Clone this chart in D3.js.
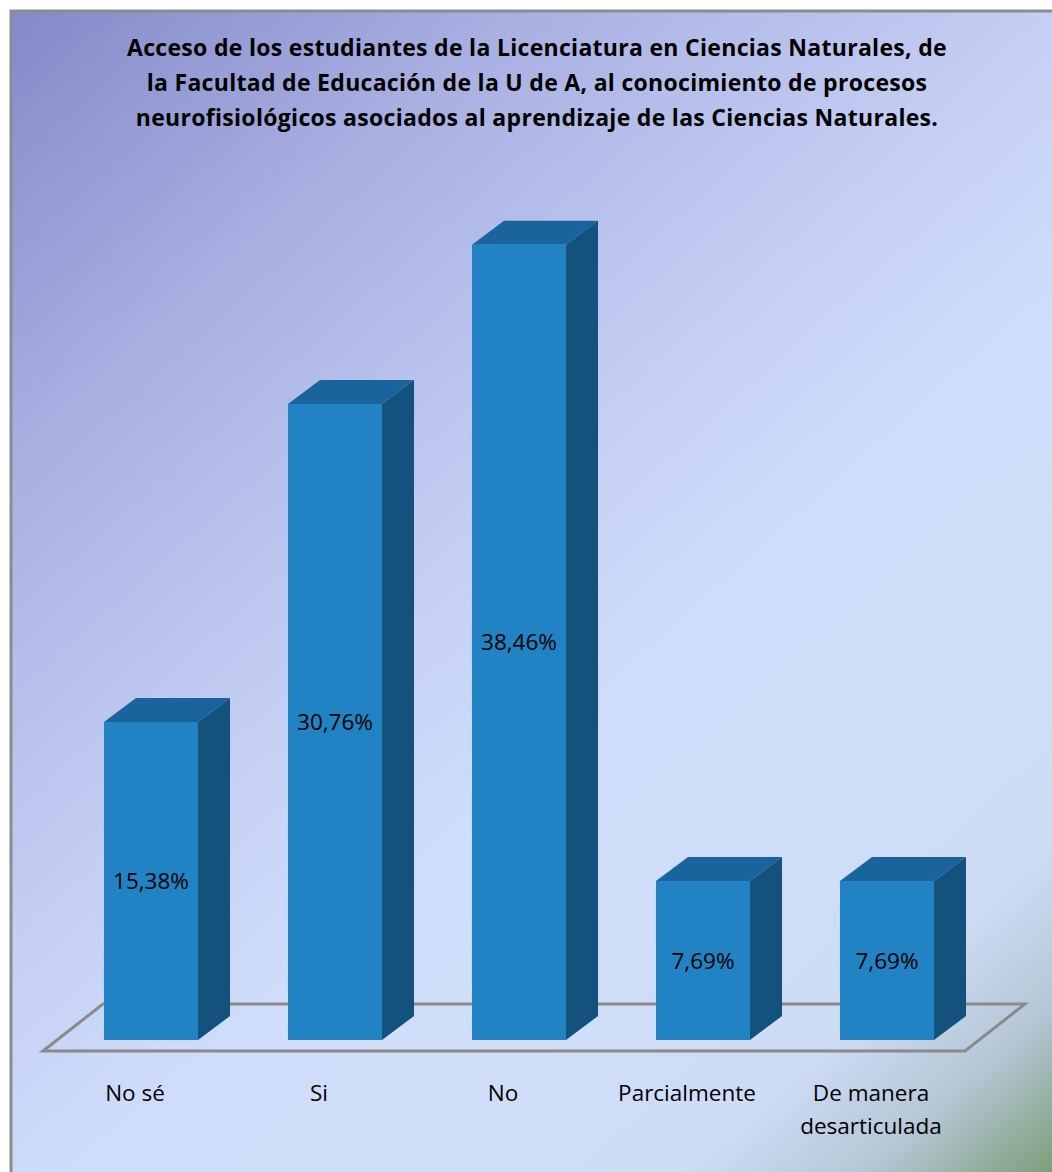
<!DOCTYPE html>
<html>
<head>
<meta charset="utf-8">
<script src="https://cdn.jsdelivr.net/npm/d3@7"></script>
<style>
  html, body { margin: 0; padding: 0; background: #fff; }
  svg { display: block; }
</style>
</head>
<body>
<svg id="chart" width="1052" height="1172"></svg>
<script>
// Survey data: percentage of answers per category
const categories = ["No sé", "Si", "No", "Parcialmente", "De manera desarticulada"];
const values = [15.38, 30.76, 38.46, 7.69, 7.69];
const valueLabels = ["15,38%", "30,76%", "38,46%", "7,69%", "7,69%"];
const titleLines = [
  "Acceso de los estudiantes de la Licenciatura en Ciencias Naturales, de",
  "la Facultad de Educación de la U de A, al conocimiento de procesos",
  "neurofisiológicos asociados al aprendizaje de las Ciencias Naturales."
];

const W = 1052, H = 1172;
const svg = d3.select("#chart");
const defs = svg.append("defs");

// Background gradient of the chart area
const bg = defs.append("linearGradient")
  .attr("id", "bgGrad")
  .attr("gradientUnits", "userSpaceOnUse")
  .attr("x1", 10).attr("y1", 10).attr("x2", W).attr("y2", H);
[
  [0.00, "#8389c8"],
  [0.22, "#a9b0e2"],
  [0.45, "#c5cff4"],
  [0.60, "#d0defb"],
  [0.84, "#cfdcf6"],
  [0.92, "#b5c7d6"],
  [1.00, "#7d9e7a"]
].forEach(([o, c]) => bg.append("stop").attr("offset", o).attr("stop-color", c));

svg.append("rect")
  .attr("x", 11).attr("y", 11).attr("width", W).attr("height", H)
  .attr("fill", "url(#bgGrad)")
  .attr("stroke", "#8c8c8c").attr("stroke-width", 3);

// Title
const font = "'Open Sans', Lato, sans-serif";
svg.append("g").selectAll("text")
  .data(titleLines).join("text")
  .attr("x", 537)
  .attr("y", (d, i) => 56 + i * 35)
  .attr("text-anchor", "middle")
  .attr("font-family", font)
  .attr("font-weight", "bold")
  .attr("font-size", 23)
  .attr("letter-spacing", 0.3)
  .attr("fill", "#000")
  .text(d => d);

// Scales
const x = d3.scaleBand()
  .domain(categories)
  .range([59, 979])
  .paddingInner(0.489)
  .paddingOuter(0.2445);

const y = d3.scaleLinear().domain([0, 40]).range([1040, 213]);

const depthX = 32, depthY = 24;   // bar depth offset
const floorDX = 60, floorDY = 47; // floor depth

// Floor plane
const fx0 = x.range()[0] - 16, fx1 = x.range()[1] - 14;
const fy = y(0) + 11;
svg.append("path")
  .attr("d", d3.line()([
    [fx0, fy], [fx0 + floorDX, fy - floorDY],
    [fx1 + floorDX, fy - floorDY], [fx1, fy]
  ]) + "Z")
  .attr("fill", "none")
  .attr("stroke", "#8a8a8a")
  .attr("stroke-width", 3)
  .attr("stroke-linejoin", "miter");

// 3D bars
const bars = svg.append("g").selectAll("g")
  .data(categories.map((c, i) => ({ c, v: values[i], label: valueLabels[i] })))
  .join("g");

bars.append("path") // top face
  .attr("d", d => {
    const x0 = x(d.c), x1 = x0 + x.bandwidth(), yt = y(d.v);
    return d3.line()([[x0, yt], [x0 + depthX, yt - depthY], [x1 + depthX, yt - depthY], [x1, yt]]) + "Z";
  })
  .attr("fill", "#1a649d");

bars.append("path") // side face
  .attr("d", d => {
    const x1 = x(d.c) + x.bandwidth(), yt = y(d.v), yb = y(0);
    return d3.line()([[x1, yt], [x1 + depthX, yt - depthY], [x1 + depthX, yb - depthY], [x1, yb]]) + "Z";
  })
  .attr("fill", "#14527e");

bars.append("rect") // front face
  .attr("x", d => x(d.c))
  .attr("y", d => y(d.v))
  .attr("width", x.bandwidth())
  .attr("height", d => y(0) - y(d.v))
  .attr("fill", "#2283c4");

bars.append("text")
  .attr("x", d => x(d.c) + x.bandwidth() / 2)
  .attr("y", d => (y(d.v) + y(0)) / 2 + 8)
  .attr("text-anchor", "middle")
  .attr("font-family", font)
  .attr("font-size", 22.5)
  .attr("fill", "#000")
  .text(d => d.label);

// Category axis labels
const wrapLabel = s => s === "De manera desarticulada" ? ["De manera", "desarticulada"] : [s];
const catG = svg.append("g").selectAll("text")
  .data(categories).join("text")
  .attr("x", d => x(d) + x.bandwidth() / 2 - 16)
  .attr("y", 1101)
  .attr("text-anchor", "middle")
  .attr("font-family", font)
  .attr("font-size", 22.5)
  .attr("fill", "#000");
catG.selectAll("tspan")
  .data(d => wrapLabel(d).map(t => ({ t, x: x(d) + x.bandwidth() / 2 - 16 })))
  .join("tspan")
  .attr("x", d => d.x)
  .attr("dy", (d, i) => i === 0 ? 0 : 33)
  .text(d => d.t);
</script>
</body>
</html>
